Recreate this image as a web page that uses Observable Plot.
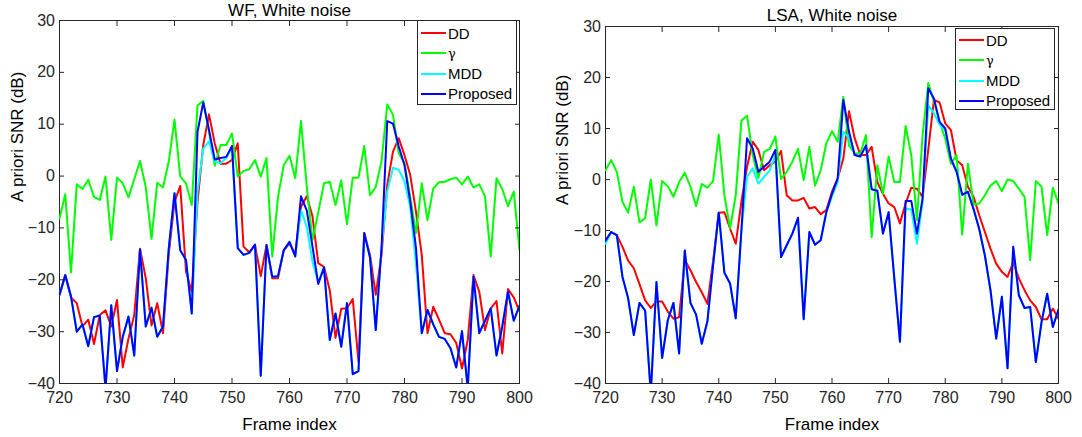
<!DOCTYPE html>
<html><head><meta charset="utf-8">
<script src="https://cdn.jsdelivr.net/npm/d3@7"></script>
<script src="https://cdn.jsdelivr.net/npm/@observablehq/plot@0.6"></script>
<style>
body{margin:0;background:#fff;}
#wrap{position:relative;width:1082px;height:437px;overflow:hidden;font-family:"Liberation Sans",Arial,sans-serif;background:#fff;}
.panel{position:absolute;top:0;}
.legend{position:absolute;border:1px solid #262626;background:#fff;box-sizing:border-box;}
.legend .row{position:absolute;left:3px;height:20px;display:flex;align-items:center;font-size:15px;color:#000;white-space:nowrap;}
.legend .row svg{margin-right:2px;}
</style></head><body><div id="wrap"></div>
<script>
const frames = [720,721,722,723,724,725,726,727,728,729,730,731,732,733,734,735,736,737,738,739,740,
741,742,743,744,745,746,747,748,749,750,751,752,753,754,755,756,757,758,759,760,
761,762,763,764,765,766,767,768,769,770,771,772,773,774,775,776,777,778,779,780,
781,782,783,784,785,786,787,788,789,790,791,792,793,794,795,796,797,798,799,800];
const xTicks = [720,730,740,750,760,770,780,790,800];
const yTicks = [-40,-30,-20,-10,0,10,20,30];
const seriesNames = ["DD","γ","MDD","Proposed"];
const seriesColors = ["#ff0000","#00ff00","#00ffff","#0000ff"];

// WF panel
const wfDD = [-23,-19.1,-23.4,-24.5,-29,-27.7,-32.4,-26.8,-25.9,-29,-23.9,-36.9,-31.3,-26.8,-14,-19.7,-28.8,-24.5,-30.3,-15,-5,
-1.9,-18.4,-22.3,-5,6,11.9,6.3,2.4,2.4,3.1,6.3,-13.6,-14.7,-13.3,-19.3,-13.3,-19.7,-19.7,-14.3,-13,
-15,-5.9,-3.9,-7.8,-16.8,-17.5,-22,-31.2,-25.6,-25.5,-23.7,-35.8,-11,-15.2,-22.9,-15.2,-1.7,4.7,7.3,4.0,
0.2,-6.9,-15.2,-30.3,-25.2,-27.7,-30.3,-30.5,-32.2,-37.1,-31.6,-19.1,-22.3,-29.7,-25.5,-24.1,-34.2,-21.8,-23.4,-26.1];
const wfGamma = [-8.2,-3.5,-18.6,-1.6,-2.5,-0.7,-4.0,-4.6,-0.1,-12.3,-0.3,-1.4,-4.1,-0.6,2.9,-2.1,-12.1,-1.3,-2.2,2.8,10.9,
-0.1,-1.4,-5.6,13.6,14.5,8.5,2.0,6.0,6.0,8.2,-0.1,1.0,1.3,3.1,-0.1,3.5,-15.5,-4.0,2.1,3.9,
-0.4,10.6,-2,-12.3,-7,-1.4,-1.1,-5.6,-0.8,-9.3,-0.3,-0.3,5.8,-3.7,-2.1,2.8,13.8,11.8,4.4,2.5,
-4,-11.0,-1.4,-8.5,-2.4,-1.2,-1.1,-0.6,-0.3,-1.6,-0.1,-2.2,-1.6,-3.9,-15.5,-0.4,-2.5,-5.8,-3.0,-14.3];
const wfMDD = [-22.9,-19.1,-23.2,-30,-28.6,-32.8,-27.2,-26.9,-41,-24.9,-37.6,-31,-27.1,-34.6,-14.1,-29,-25.4,-31,-29,-14,-3.3,
-14.3,-16.2,-26.5,-3,5.3,6.7,2.8,2.5,3.5,5.5,-13.9,-15.2,-14.8,-13.2,-38.5,-13.3,-19.4,-19.3,-14.3,-12.7,
-15.5,-6.6,-9.8,-16.5,-20.5,-17.6,-31.6,-26.5,-32.9,-24.5,-38.2,-37.6,-11.0,-15.7,-29.7,-13.9,-3,1.6,1.2,-1,
-6,-17,-30.3,-25.8,-28.6,-31,-31.4,-33.2,-36.9,-29.9,-41,-19.4,-30.3,-27.9,-25.5,-34.6,-29,-22.3,-27.9,-25];
const wfProp = [-22.9,-19.1,-23.2,-30,-28.6,-32.8,-27.2,-26.9,-41,-24.9,-37.6,-31,-27.1,-34.6,-14.1,-29,-25.4,-31,-29,-14,-3.3,
-14.3,-16.2,-26.5,8.5,14.2,8.9,3.2,3.5,3.7,5.8,-13.9,-15.2,-14.8,-13.2,-38.5,-13.3,-19.4,-19.3,-14.3,-12.7,
-15.5,-3.9,-6.6,-13.6,-20.8,-17.6,-31.6,-26.5,-32.9,-24.5,-38.2,-37.6,-11.0,-15.7,-29.7,-13.9,10.6,10.1,5.7,2.1,
-4.9,-13.9,-30.3,-25.8,-28.6,-31,-31.4,-33.2,-36.9,-29.9,-41,-19.4,-30.3,-27.9,-25.5,-34.6,-29,-22.3,-27.9,-25];

// LSA panel
const lsaDD = [-12,-10.3,-10.9,-13.2,-15.9,-17.4,-20.5,-23.7,-25.2,-23.9,-23.9,-25.9,-27.3,-27.0,-15.8,-17.8,-20.1,-22.1,-24.4,-16,-6.5,
-6.4,-9.6,-12.6,-4.4,2.5,7.4,5.8,1.8,2.8,3.5,5.6,-3.1,-4.1,-4.1,-3.6,-5.7,-5.4,-6.8,-6.0,-2.4,
0.2,4.1,13.4,8.1,4.8,4.8,6.4,-0.5,-2.8,-4.7,-5.4,-8.6,-4.7,-1.6,-1.8,-3.4,5.8,15.6,15.1,11.0,
9.7,3.8,2.8,-1.4,-3.4,-7.0,-10.3,-13.6,-16.5,-18.1,-19.1,-16.2,-19.4,-21.7,-23.7,-25.0,-27.4,-27.4,-25.3,-27.3];
const lsaGamma = [1.8,3.8,1.5,-4.4,-6.5,-1.4,-8.4,-7.6,0.0,-9.0,-0.3,-1.3,-3.4,-0.5,1.3,-1.4,-5.2,-0.9,-1.6,-0.3,8.8,
-3.1,-9.6,-3.1,11.5,12.5,4.8,0.3,5.4,6.0,8.4,0.1,1.5,3.5,6.0,-0.1,6.4,-1.2,1.8,7.1,9.5,
7.4,16.2,6.7,5.1,5.1,8.7,-11.3,2.8,-2.8,4.5,-0.5,-0.5,10.5,4.8,-8.0,8.7,18.9,15.3,11.3,8,
3.1,4.8,-10.8,3.1,-4.9,-4.7,-3.1,-1.2,-0.3,-2.3,0,-0.3,-1.8,-3.4,-15.8,-0.3,-1.4,-10.9,-1.6,-4.7];
const lsaMDD = [-12.6,-10.3,-10.9,-19.1,-23.3,-30.5,-24.2,-25.7,-42,-20.1,-35.0,-27.6,-24.2,-34.1,-13.9,-24.2,-26.5,-32.2,-27.8,-16.8,-6.5,
-18.3,-20.4,-27.2,-10,0.5,2.2,-0.8,0.5,1.8,4.8,-15.2,-12.9,-10.6,-7.5,-27.4,-10.3,-12.8,-11.9,-6.4,-3.3,
-0.5,9.4,8.1,4.8,4.5,6.7,-1.9,-2.2,-10.6,-6.4,-19.4,-31.8,-5.7,-5.9,-12.6,-4.4,14.5,13.0,10.7,9.7,
4.1,1.5,-3.0,-2.4,-5.8,-9.7,-14.9,-21.8,-31.2,-23.0,-37.0,-13.2,-22.7,-25.2,-25.0,-35.8,-28.0,-22.4,-28.9,-25.5];
const lsaProp = [-12,-10.3,-10.9,-19.1,-23.3,-30.5,-24.2,-25.7,-42,-20.1,-35.0,-27.6,-24.2,-34.1,-13.9,-24.2,-26.5,-32.2,-27.8,-16.8,-6.5,
-18.3,-20.4,-27.2,-10,8.1,6.1,1.5,2.5,3.5,5.8,-15.2,-12.9,-10.6,-7.5,-27.4,-10.3,-12.8,-11.9,-6.4,-2.8,
0.2,15.6,9.4,4.8,4.5,6.7,-1.9,-2.2,-10.6,-6.4,-19.4,-31.8,-4.2,-4.2,-10.6,-3.7,17.9,15.9,11.3,10,
4.1,1.5,-3.0,-2.4,-5.8,-9.7,-14.9,-21.8,-31.2,-23.0,-37.0,-13.2,-22.7,-25.2,-25.0,-35.8,-28.0,-22.4,-28.9,-25.5];

const wrap = document.getElementById("wrap");

function makePanel(cfg) {
  const lines = cfg.series.map((arr, k) =>
    Plot.line(frames.map((f, i) => ({frame: f, v: arr[i]})), {
      x: "frame", y: "v", stroke: seriesColors[k], strokeWidth: 2, clip: true
    })
  );
  const chart = Plot.plot({
    width: cfg.width, height: 437,
    marginLeft: cfg.ml, marginRight: cfg.mr, marginTop: cfg.mt, marginBottom: cfg.mb,
    style: {fontFamily: '"Liberation Sans", Arial, sans-serif', fontSize: "16px", color: "#262626", background: "transparent", overflow: "visible"},
    x: {domain: [720, 800]},
    y: {domain: [-40, 30]},
    marks: [
      Plot.frame({stroke: "#262626"}),
      ...lines,
      Plot.axisX({anchor: "bottom", ticks: xTicks, tickSize: -5, tickPadding: 13, label: null, fontSize: 16}),
      Plot.axisX({anchor: "top", ticks: xTicks, tickSize: -5, tickFormat: () => "", label: null}),
      Plot.axisY({anchor: "left", ticks: yTicks, tickSize: -5, tickPadding: 9.5, label: null, fontSize: 16}),
      Plot.axisY({anchor: "right", ticks: yTicks, tickSize: -5, tickFormat: () => "", label: null}),
      Plot.text([cfg.title], {frameAnchor: "top", dy: cfg.titleDy, lineAnchor: "middle", fontSize: 17, fill: "#000"}),
      Plot.text(["Frame index"], {frameAnchor: "bottom", dy: 41, lineAnchor: "middle", fontSize: 17, fill: "#000"}),
      Plot.text(["A priori SNR (dB)"], {frameAnchor: "left", dx: cfg.ylabDx, rotate: -90, lineAnchor: "middle", fontSize: 17, fill: "#000"})
    ]
  });
  chart.classList.add("panel");
  chart.style.left = cfg.left + "px";
  wrap.appendChild(chart);

  const box = document.createElement("div");
  box.className = "legend";
  Object.assign(box.style, {left: cfg.lg[0] + "px", top: cfg.lg[1] + "px", width: cfg.lg[2] + "px", height: cfg.lg[3] + "px"});
  seriesNames.forEach((name, i) => {
    const r = document.createElement("div");
    r.className = "row";
    r.style.top = (cfg.lg[4] + i * 20.3 - 11) + "px";
    const isG = name === "γ";
    r.innerHTML = `<svg width="25" height="4"><line x1="0" x2="25" y1="2" y2="2" stroke="${seriesColors[i]}" stroke-width="2"/></svg>` +
      `<span style="${isG ? 'font-family:\'DejaVu Serif\',serif;font-size:13px;' : ''}">${name}</span>`;
    box.appendChild(r);
  });
  wrap.appendChild(box);
}

makePanel({series: [wfDD, wfGamma, wfMDD, wfProp], title: "WF, White noise", width: 540, left: 0,
  ml: 59, mr: 21, mt: 20, mb: 54, titleDy: -10, ylabDx: -42, lg: [417, 20, 100, 85, 13]});
makePanel({series: [lsaDD, lsaGamma, lsaMDD, lsaProp], title: "LSA, White noise", width: 541, left: 541,
  ml: 64, mr: 24, mt: 26, mb: 54, titleDy: -11, ylabDx: -43, lg: [955, 28, 100, 82, 12]});
</script></body></html>
